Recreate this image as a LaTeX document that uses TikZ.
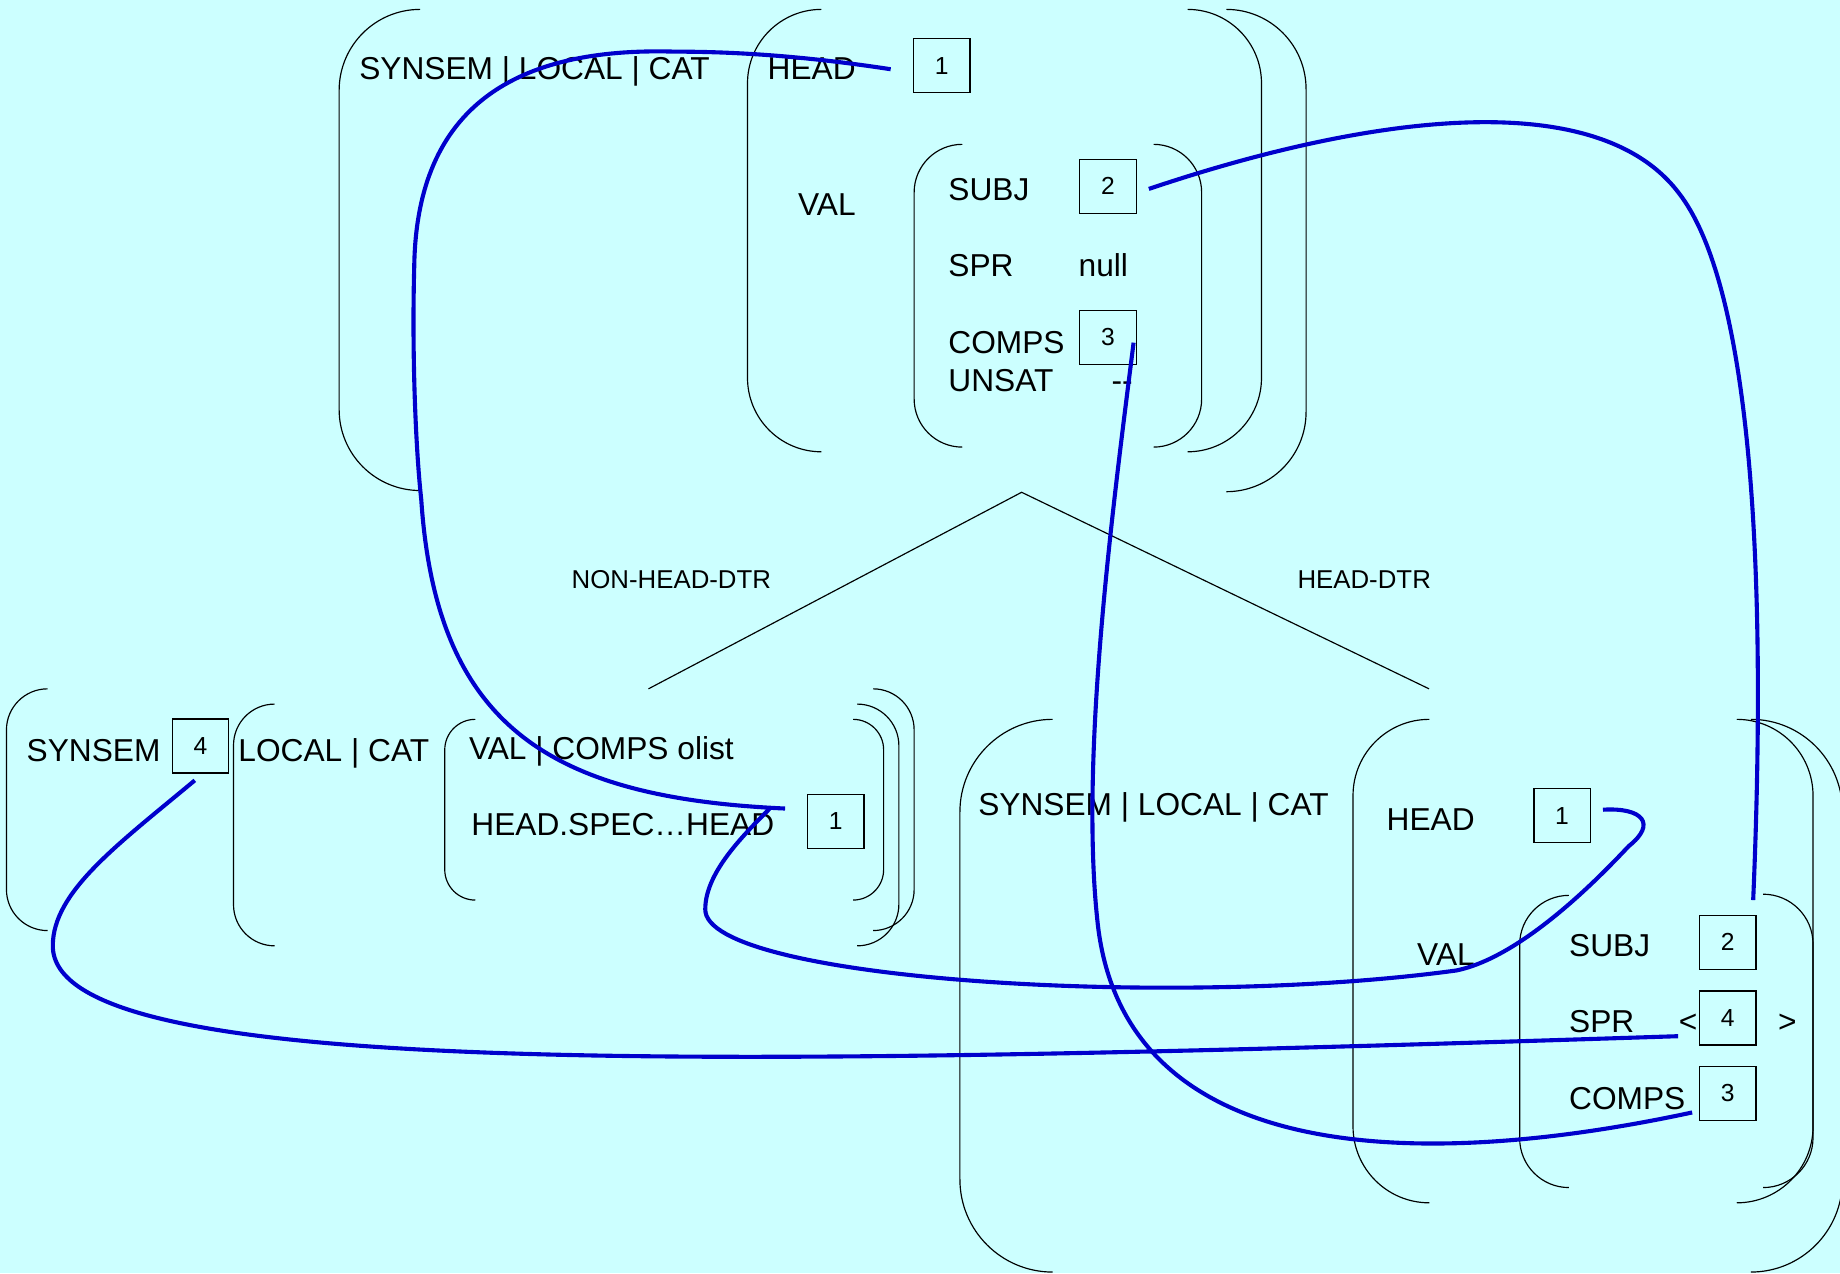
\documentclass[tikz,border=0pt]{standalone}
\usepackage{fontspec}
\setmainfont{Liberation Sans}
\definecolor{bgc}{HTML}{CCFFFF}
\definecolor{lnk}{HTML}{0000CC}
\tikzset{
  brk/.style={draw=black, line width=1pt},
  lbl/.style={anchor=base west, inner sep=0pt, font=\fontsize{27}{32}\selectfont},
  dtr/.style={anchor=base west, inner sep=0pt, font=\fontsize{22}{26}\selectfont},
  tag/.style={draw, line width=1.1pt, minimum width=48pt, minimum height=46pt, inner sep=0pt, font=\fontsize{21}{25}\selectfont},
  link/.style={draw=lnk, line width=3.5pt},
  branch/.style={draw, line width=1pt},
}
% left bracket: vertical x, top y, bottom y, radius
\newcommand\avmL[4]{\draw[brk] ({#1+#4},#2) .. controls ({#1+0.4477*#4},#2) and (#1,{#2+0.4477*#4}) .. (#1,{#2+#4}) -- (#1,{#3-#4}) .. controls (#1,{#3-0.4477*#4}) and ({#1+0.4477*#4},#3) .. ({#1+#4},#3);}
% right bracket
\newcommand\avmR[4]{\draw[brk] ({#1-#4},#2) .. controls ({#1-0.4477*#4},#2) and (#1,{#2+0.4477*#4}) .. (#1,{#2+#4}) -- (#1,{#3-#4}) .. controls (#1,{#3-0.4477*#4}) and ({#1-0.4477*#4},#3) .. ({#1-#4},#3);}
\begin{document}
\begin{tikzpicture}[x=1pt,y=-1pt]
\useasboundingbox (0,0) rectangle (1568,1085);
\fill[bgc] (0,0) rectangle (1568,1085);
\clip (0,0) rectangle (1568,1085);

% ---------- top AVM ----------
\avmL{289}{8}{418}{69}
\avmR{1113}{8}{419}{68}
\avmL{637}{8}{385}{63}
\avmR{1075}{8}{385}{63}
\avmL{779}{123}{381}{41}
\avmR{1024}{123}{381}{41}

\node[lbl] (tSyn) at (306,68) {SYNSEM | LOCAL | CAT};
\node[lbl] (tHead) at (654,68) {HEAD};
\node[tag] (tB1) at (802.5,56) {1};
\node[lbl] (tVal) at (680,184) {VAL};
\node[lbl] (tSubj) at (808,171) {SUBJ};
\node[tag] (tB2) at (944.2,158.8) {2};
\node[lbl] (tSpr) at (808,235.8) {SPR};
\node[lbl] (tNull) at (919,235.8) {null};
\node[lbl] (tComps) at (808,301) {COMPS};
\node[tag] (tB3) at (944.2,287.6) {3};
\node[lbl] (tUnsat) at (808,334) {UNSAT};
\node[lbl] (tDash) at (947,334) {{-}{-}};

% ---------- tree ----------
\coordinate (apex) at (870.6,419.5);
\coordinate (nhd) at (552.6,587);
\coordinate (hd) at (1217.8,587);
\draw[branch] (nhd) -- (apex) -- (hd);
\node[dtr] (lNhd) at (487,501.4) {NON-HEAD-DTR};
\node[dtr] (lHd) at (1105.5,501.4) {HEAD-DTR};

% ---------- bottom-left AVM ----------
\avmL{5.5}{587}{793}{35}
\avmR{779}{587}{793}{35}
\avmL{199}{600}{806}{35}
\avmR{766}{600}{806}{35.5}
\avmL{379}{613}{767}{26}
\avmR{753}{613}{767}{26}

\node[lbl] (lSyn) at (22.5,648.5) {SYNSEM};
\node[tag] (lB4) at (170.9,635.8) {4};
\node[lbl] (lLoc) at (203,648.5) {LOCAL | CAT};
\node[lbl] (lVal) at (399.5,647) {VAL | COMPS olist};
\node[lbl] (lSpec) at (401.5,712) {HEAD.SPEC…HEAD};
\node[tag] (lB1) at (712.2,699.9) {1};

% ---------- bottom-right AVM ----------
\avmL{818}{613}{1084}{79}
\avmR{1570}{613}{1084}{78}
\avmL{1153}{613}{1025}{65}
\avmR{1545}{613}{1025}{65}
\avmL{1295}{763}{1012}{42}
\avmR{1545}{762}{1012}{42.5}

\node[lbl] (rSyn) at (833.5,695) {SYNSEM | LOCAL | CAT};
\node[lbl] (rHead) at (1181.5,707.7) {HEAD};
\node[tag] (rB1) at (1331.1,695.1) {1};
\node[lbl] (rVal) at (1207.5,823) {VAL};
\node[lbl] (rSubj) at (1337,815) {SUBJ};
\node[tag] (rB2) at (1472.3,803) {2};
\node[lbl] (rSpr) at (1337,880) {SPR};
\node[lbl] (rLt) at (1430.5,880) {<};
\node[tag] (rB4) at (1472.3,867.5) {4};
\node[lbl] (rGt) at (1515,880) {>};
\node[lbl] (rComps) at (1337,945.4) {COMPS};
\node[tag] (rB3) at (1472.3,931.8) {3};

% ---------- links ----------
\coordinate (a0) at (759,59);
\coordinate (a1) at (669,689);
\draw[link] (a0) .. controls (700,50) and (640,44) .. (575,44)
  .. controls (440,40) and (355,90) .. (353,227)
  .. controls (351,300) and (354,380) .. (359,426)
  .. controls (372,620) and (470,680) .. (a1);

\coordinate (b0) at (979,161);
\coordinate (b1) at (1494,767);
\draw[link] (b0) .. controls (1160,100) and (1360,70) .. (1431,165)
  .. controls (1485,235) and (1508,440) .. (b1);

\coordinate (c0) at (966,292);
\coordinate (c1) at (1442,948);
\draw[link] (c0) .. controls (950,420) and (920,640) .. (935,783)
  .. controls (955,990) and (1200,1000) .. (c1);

\coordinate (d0) at (166,665);
\coordinate (d1) at (1430,883);
\draw[link] (d0) .. controls (100,720) and (45,760) .. (45,806)
  .. controls (45,920) and (600,910) .. (d1);

\coordinate (e0) at (1366,690);
\coordinate (e1) at (656,689);
\draw[link] (e0) .. controls (1400,688) and (1412,702) .. (1388,721)
  .. controls (1370,740) and (1300,815) .. (1241,827)
  .. controls (1000,860) and (601,835) .. (601,775)
  .. controls (601,745) and (630,715) .. (e1);
\end{tikzpicture}
\end{document}
